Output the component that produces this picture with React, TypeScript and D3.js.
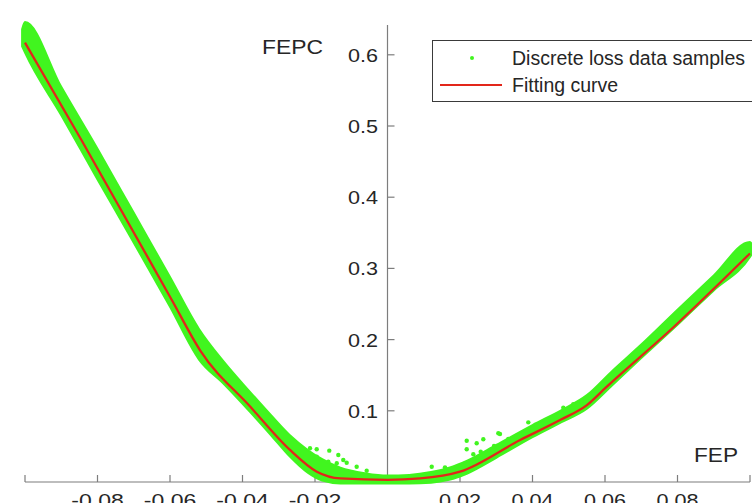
import React from "react";
import * as d3 from "d3";

// Fitting curve knots (FEP, FEPC)
const fitX = [-0.1, -0.0844, -0.0595, -0.0517, -0.0379, -0.0269, -0.0195, -0.013, 0, 0.009, 0.02, 0.0366, 0.0476, 0.055, 0.0605, 0.0788, 0.1];
const fitY = [0.617, 0.48, 0.2556, 0.185, 0.106, 0.045, 0.0145, 0.005, 0.003, 0.005, 0.0145, 0.059, 0.087, 0.108, 0.134, 0.217, 0.321];

// Dense sample cloud envelope (lower / upper bound of samples at each FEP)
const bandX = [-0.1008, -0.1, -0.09, -0.08, -0.07, -0.06, -0.052, -0.045, -0.038, -0.032, -0.027, -0.022, -0.018, -0.013, -0.006, 0, 0.006, 0.012, 0.017, 0.022, 0.03, 0.04, 0.048, 0.055, 0.062, 0.07, 0.08, 0.09, 0.1, 0.1005];
const bandLo = [0.612, 0.603, 0.515, 0.425, 0.336, 0.246, 0.172, 0.137, 0.099, 0.065, 0.036, 0.013, 0.002, -0.002, -0.002, -0.002, -0.002, -0.001, 0.003, 0.012, 0.034, 0.063, 0.084, 0.103, 0.136, 0.174, 0.221, 0.269, 0.316, 0.32];
const bandHi = [0.636, 0.646, 0.555, 0.468, 0.378, 0.288, 0.215, 0.168, 0.127, 0.093, 0.066, 0.045, 0.032, 0.02, 0.012, 0.009, 0.01, 0.014, 0.02, 0.03, 0.052, 0.08, 0.101, 0.122, 0.156, 0.193, 0.242, 0.29, 0.337, 0.334];

// Scattered discrete samples away from the dense cloud
const outX = [-0.02138, -0.01953, -0.01606, -0.01357, -0.01126, -0.01633, -0.0085, -0.00574, -0.01953, -0.014, -0.0122, 0.0122, 0.01586, 0.02185, 0.0246, 0.02643, 0.02185, 0.02367, 0.02571, 0.02938, 0.03103, 0.03332, 0.03884, 0.0485, 0.05126, 0.05357, 0.03057];
const outY = [0.0473, 0.0459, 0.044, 0.0379, 0.0271, 0.0285, 0.0215, 0.0159, 0.0355, 0.0263, 0.0309, 0.0215, 0.0206, 0.058, 0.0544, 0.06, 0.0459, 0.0389, 0.0426, 0.0506, 0.0674, 0.0604, 0.0838, 0.1044, 0.1091, 0.1128, 0.0684];

const xTicks = [-0.1, -0.08, -0.06, -0.04, -0.02, 0.02, 0.04, 0.06, 0.08, 0.1];
const xTickLabels = ["", "-0.08", "-0.06", "-0.04", "-0.02", "0.02", "0.04", "0.06", "0.08", ""];
const yTicks = [0.1, 0.2, 0.3, 0.4, 0.5, 0.6];
const yTickLabels = ["0.1", "0.2", "0.3", "0.4", "0.5", "0.6"];
const legendLabels = ["Discrete loss data samples", "Fitting curve"];

const W = 752;
const H = 503;
const GREEN = "#41f51f";
const RED = "#e2261a";
const AXIS = "#7d7d7d";
const TEXT = "#262626";
const FONT = "'Liberation Sans', Arial, Helvetica, sans-serif";

export default function App() {
  const x = d3.scaleLinear().domain([-0.1, 0.1]).range([25, 750]);
  const y = d3.scaleLinear().domain([0, 0.6]).range([482, 482 - 427.2]);
  const yTop = y(0.642);

  const fitPts = fitX.map((v, i) => [v, fitY[i]] as [number, number]);
  const line = d3
    .line<[number, number]>()
    .x((d) => x(d[0]))
    .y((d) => y(d[1]))
    .curve(d3.curveMonotoneX);

  const bandPts = bandX.map((v, i) => ({ x: v, lo: bandLo[i], hi: bandHi[i] }));
  const area = d3
    .area<{ x: number; lo: number; hi: number }>()
    .x((d) => x(d.x))
    .y0((d) => y(d.lo))
    .y1((d) => y(d.hi))
    .curve(d3.curveMonotoneX);

  const x0 = x(0);
  const y0 = y(0);

  return (
    <svg
      width={W}
      height={H}
      style={{ position: "fixed", left: 0, top: 0, background: "#fff" }}
      fontFamily={FONT}
    >
      <rect x={0} y={0} width={W} height={H} fill="#fff" />
      {/* axes */}
      <line x1={x(-0.1)} x2={x(0.1)} y1={y0} y2={y0} stroke={AXIS} strokeWidth={1.2} />
      <line x1={x0} x2={x0} y1={yTop} y2={y0} stroke={AXIS} strokeWidth={1.2} />
      {xTicks.map((t, i) => (
        <g key={"xt" + i}>
          <line x1={x(t)} x2={x(t)} y1={y0} y2={y0 - 7} stroke={AXIS} strokeWidth={1.2} />
          {xTickLabels[i] && (
            <text
              x={x(t)}
              y={y0 + 25}
              textAnchor="middle"
              fontSize={19}
              fill={TEXT}
              textLength={xTickLabels[i].length * 10.5}
              lengthAdjust="spacingAndGlyphs"
            >
              {xTickLabels[i]}
            </text>
          )}
        </g>
      ))}
      {yTicks.map((t, i) => (
        <g key={"yt" + i}>
          <line x1={x0} x2={x0 + 7} y1={y(t)} y2={y(t)} stroke={AXIS} strokeWidth={1.2} />
          <text
            x={378}
            y={y(t) + 7}
            textAnchor="end"
            fontSize={19}
            fill={TEXT}
            textLength={30}
            lengthAdjust="spacingAndGlyphs"
          >
            {yTickLabels[i]}
          </text>
        </g>
      ))}
      <text x={262} y={54} fontSize={19.5} fill={TEXT} textLength={61} lengthAdjust="spacingAndGlyphs">
        FEPC
      </text>
      <text x={694} y={462} fontSize={19.5} fill={TEXT} textLength={44} lengthAdjust="spacingAndGlyphs">
        FEP
      </text>

      {/* data */}
      <path d={area(bandPts) || ""} fill={GREEN} stroke={GREEN} strokeWidth={2} strokeLinejoin="round" />
      {outX.map((v, i) => (
        <circle key={"o" + i} cx={x(v)} cy={y(outY[i])} r={2.2} fill={GREEN} />
      ))}
      <path d={line(fitPts) || ""} fill="none" stroke={RED} strokeWidth={2.3} />

      {/* legend */}
      <rect x={432.5} y={40.5} width={340} height={61} fill="#fff" stroke="#3a3a3a" strokeWidth={1} />
      <circle cx={472} cy={58} r={2} fill={GREEN} />
      <text x={512} y={65} fontSize={19.5} fill={TEXT}>
        {legendLabels[0]}
      </text>
      <line x1={440} x2={502} y1={85} y2={85} stroke={RED} strokeWidth={2} />
      <text x={512} y={92} fontSize={19.5} fill={TEXT}>
        {legendLabels[1]}
      </text>
    </svg>
  );
}
